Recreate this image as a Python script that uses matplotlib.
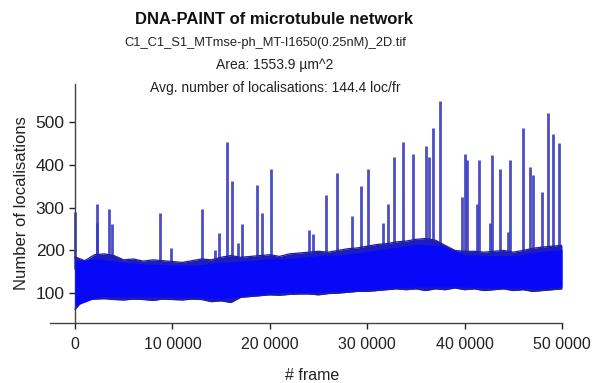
import numpy as np
import matplotlib
matplotlib.use("Agg")
from matplotlib import pyplot as plt

plt.rcParams['font.family'] = ['Liberation Sans', 'DejaVu Sans']

# core of the dense noise band
band_frames = [0, 2500, 5000, 7500, 10000, 12500, 15000, 17500, 20000, 22500, 25000,
               27500, 30000, 32500, 35000, 37500, 40000, 42500, 45000, 47500, 50000]
band_low = [70, 92, 91, 91, 91, 90, 86, 94, 100, 102, 102,
            104, 108, 112, 114, 114, 114, 112, 112, 110, 114]
band_high = [176, 180, 172, 168, 166, 166, 172, 176, 180, 182, 188,
             190, 198, 206, 214, 212, 190, 188, 188, 196, 202]

# outer fringe of the noise (tips), every 1000 frames
tip_frames = list(range(0, 51000, 1000))
tip_high = [185, 176, 190, 192, 188, 178, 180, 175, 178, 176, 174, 172, 176, 180, 178, 184, 188,
            184, 186, 188, 190, 186, 192, 194, 196, 198, 196, 200, 204, 206, 210, 214, 216,
            220, 222, 226, 228, 224, 212, 200, 198, 198, 196, 198, 200, 196, 200, 205, 208,
            210, 212]
tip_low = [62, 88, 86, 87, 85, 84, 86, 85, 83, 86, 85, 84, 86, 85, 80, 82, 78,
           90, 92, 94, 96, 95, 97, 98, 98, 96, 99, 100, 102, 104, 104, 106, 108,
           110, 108, 110, 106, 110, 108, 112, 108, 110, 106, 108, 110, 106, 108, 104, 106,
           108, 110]

# burst spikes: frame, peak number of localisations
spike_frames = [0, 2230, 2300, 3490, 3800, 8730, 9860, 13040, 14370, 14780, 15610,
                16120, 16730, 17150, 18690, 19200, 20120, 24030, 24440, 25770, 26900,
                28440, 29360, 30080, 31620, 32130, 32750, 33680, 34700, 36040, 36340,
                36760, 37470, 39730, 40040, 40250, 41270, 41480, 42610, 42810, 43640,
                44450, 44660, 46000, 46710, 47020, 47950, 48560, 49080, 49690]
spike_peaks = [289, 308, 264, 296, 261, 287, 205, 296, 200, 240, 453,
               362, 217, 261, 353, 287, 392, 247, 238, 329, 381,
               280, 350, 390, 264, 308, 418, 453, 427, 444, 418,
               486, 551, 325, 427, 413, 310, 413, 264, 423, 390,
               243, 411, 486, 395, 376, 336, 523, 474, 451]

xticks = [0, 10000, 20000, 30000, 40000, 50000]
xtick_labels = ['0', '10 0000', '20 0000', '30 0000', '40 0000', '50 0000']
yticks = [100, 200, 300, 400, 500]

fig = plt.figure(figsize=(5.97, 3.83), dpi=100)
ax = fig.add_axes([50/597, 60/383, 512/597, 239/383])

base = np.interp(spike_frames, band_frames, band_high) - 20
ax.vlines(spike_frames, base, spike_peaks, color='#3a3ac0', lw=2.0, alpha=0.9, zorder=2)

ax.fill_between(tip_frames, tip_low, tip_high, color='#1c1cc0', lw=0, zorder=3)
ax.plot(tip_frames, tip_low, color='#20209a', lw=0.9, zorder=3)
ax.plot(tip_frames, tip_high, color='#20209a', lw=0.9, zorder=3)
ax.fill_between(band_frames, band_low, band_high, color='#0808f8', lw=0, zorder=4)

ax.set_xlim(-2570, 50000)
ax.set_ylim(30, 590)
ax.spines['left'].set_position(('data', 0))
for s in ['top', 'right']:
    ax.spines[s].set_visible(False)
for s in ['left', 'bottom']:
    ax.spines[s].set_color('#444444')
    ax.spines[s].set_linewidth(1.0)

ax.set_xticks(xticks)
ax.set_xticklabels(xtick_labels)
ax.set_yticks(yticks)
ax.tick_params(axis='both', colors='#222222', length=4, width=1.0)
ax.tick_params(axis='x', pad=6, labelsize=11.5)
ax.tick_params(axis='y', labelsize=12.5)

fig.text(22/597, 1 - 203/383, 'Number of localisations', rotation=90,
         ha='center', va='center', fontsize=12, color='#222222')
fig.text(312/597, 1 - 375/383, '# frame', ha='center', va='center',
         fontsize=11.5, color='#222222')

fig.text(274/597, 1 - 20/383, 'DNA-PAINT of microtubule network', ha='center',
         va='center', fontsize=12, fontweight='bold', color='#111111')
fig.text(265/597, 1 - 43/383, 'C1_C1_S1_MTmse-ph_MT-I1650(0.25nM)_2D.tif', ha='center',
         va='center', fontsize=9.3, color='#222222')
fig.text(275/597, 1 - 65/383, 'Area: 1553.9 µm^2', ha='center',
         va='center', fontsize=10, color='#222222')
fig.text(275/597, 1 - 88/383, 'Avg. number of localisations: 144.4 loc/fr', ha='center',
         va='center', fontsize=10, color='#222222')

fig.savefig('out.png', dpi=100)
